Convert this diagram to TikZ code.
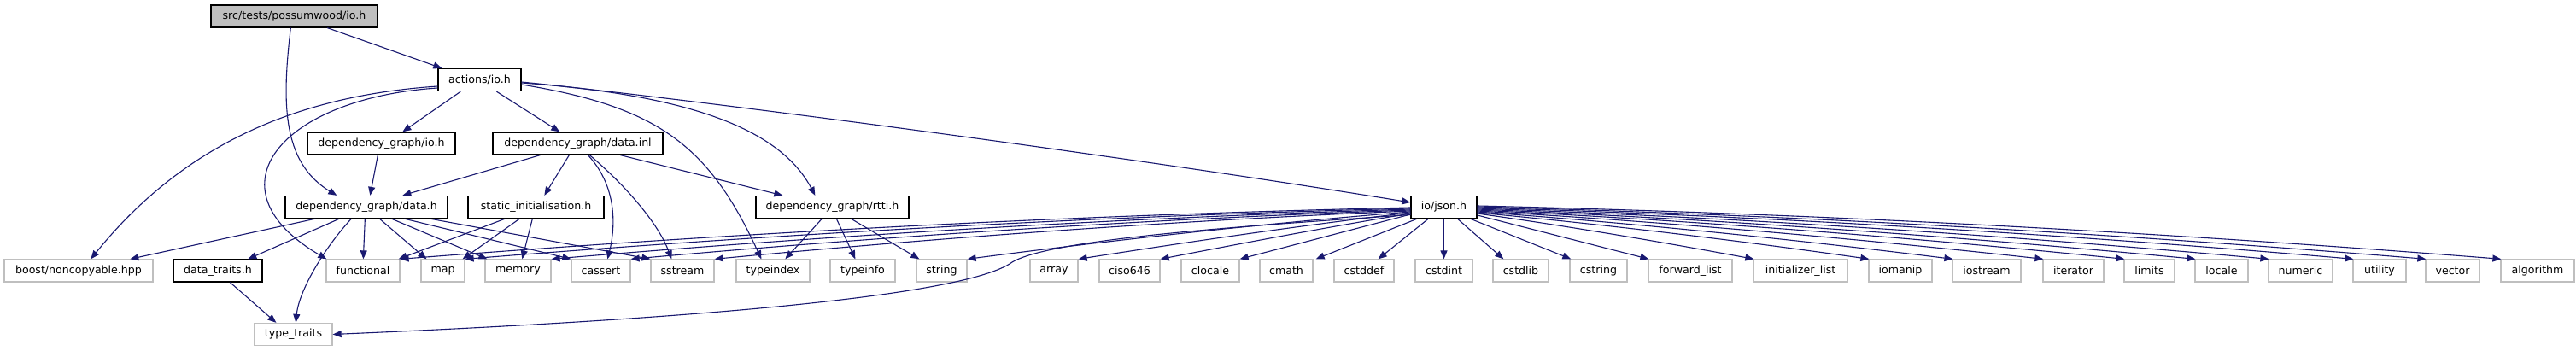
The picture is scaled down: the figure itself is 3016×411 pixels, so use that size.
\documentclass[tikz,border=0pt]{standalone}
\usepackage{fontspec}
\newfontfamily\dv{DejaVu Sans}
\usetikzlibrary{arrows.meta}
\definecolor{edgec}{HTML}{191970}
\definecolor{grayb}{HTML}{BFBFBF}
\definecolor{rootf}{HTML}{BFBFBF}
\tikzset{
  nb/.style={draw=grayb, line width=1.3pt, minimum height=26pt, inner sep=0pt,
    font=\dv\fontsize{12.6}{15}\selectfont, fill=white},
  nk/.style={nb, draw=black},
  dep/.style={draw=edgec, line width=1.1pt, -{Triangle[length=10pt,width=8pt]}}
}
\begin{document}
\begin{tikzpicture}[x=1pt,y=-1pt]
\useasboundingbox[fill=white] (0,0) rectangle (3016,411);
% row 0
\node[nk, fill=rootf, minimum width=195pt] (root) at (344.5,19) {src/tests/possumwood/io.h};
% row 1
\node[nk, minimum width=97pt] (actions) at (561.5,93.5) {actions/io.h};
% row 2
\node[nk, minimum width=173pt] (dgio) at (446.5,168) {dependency\_graph/io.h};
\node[nk, minimum width=199pt] (dginl) at (676.5,168) {dependency\_graph/data.inl};
% row 3
\node[nk, minimum width=190pt] (dgdata) at (429,242.5) {dependency\_graph/data.h};
\node[nk, minimum width=159pt] (static) at (627.5,242.5) {static\_initialisation.h};
\node[nk, minimum width=179pt] (rtti) at (974.5,242.5) {dependency\_graph/rtti.h};
\node[nk, minimum width=77pt] (json) at (1690.5,242.5) {io/json.h};
% row 4
\node[nb, minimum width=174pt] (boost) at (92,317) {boost/noncopyable.hpp};
\node[nk, minimum width=104pt] (datatraits) at (255,317) {data\_traits.h};
\node[nb, minimum width=86pt] (functional) at (425,317) {functional};
\node[nb, minimum width=51pt] (map) at (518.5,317) {map};
\node[nb, minimum width=77pt] (memory) at (606.5,317) {memory};
\node[nb, minimum width=69pt] (cassert) at (703.5,317) {cassert};
\node[nb, minimum width=74pt] (sstream) at (799,317) {sstream};
\node[nb, minimum width=86pt] (typeindex) at (905,317) {typeindex};
\node[nb, minimum width=76pt] (typeinfo) at (1010,317) {typeinfo};
\node[nb, minimum width=59pt] (string) at (1102.5,317) {string};
\node[nb, minimum width=56pt] (array) at (1234,317) {array};
\node[nb, minimum width=71pt] (ciso646) at (1322.5,317) {ciso646};
\node[nb, minimum width=68pt] (clocale) at (1417,317) {clocale};
\node[nb, minimum width=62pt] (cmath) at (1506,317) {cmath};
\node[nb, minimum width=70pt] (cstddef) at (1597,317) {cstddef};
\node[nb, minimum width=67pt] (cstdint) at (1690.5,317) {cstdint};
\node[nb, minimum width=65pt] (cstdlib) at (1780.5,317) {cstdlib};
\node[nb, minimum width=67pt] (cstring) at (1871.5,317) {cstring};
\node[nb, minimum width=98pt] (forwardlist) at (1979,317) {forward\_list};
\node[nb, minimum width=110pt] (initlist) at (2108,317) {initializer\_list};
\node[nb, minimum width=74pt] (iomanip) at (2225,317) {iomanip};
\node[nb, minimum width=80pt] (iostream) at (2326,317) {iostream};
\node[nb, minimum width=71pt] (iterator) at (2427.5,317) {iterator};
\node[nb, minimum width=59pt] (limits) at (2516.5,317) {limits};
\node[nb, minimum width=62pt] (locale) at (2601,317) {locale};
\node[nb, minimum width=75pt] (numeric) at (2693.5,317) {numeric};
\node[nb, minimum width=62pt] (utility) at (2786,317) {utility};
\node[nb, minimum width=63pt] (vector) at (2871.5,317) {vector};
\node[nb, minimum width=86pt] (algorithm) at (2971,317) {algorithm};
% row 5
\node[nb, minimum width=91pt] (typetraits) at (343.5,391.5) {type\_traits};

% root
\draw[dep] ([xshift=137pt]root.south west) -- ([xshift=5pt]actions.north west);
\draw[dep] ([xshift=94pt]root.south west) .. controls (330,120) and (330,190) .. ([xshift=61pt]dgdata.north west);
% actions
\draw[dep] ([xshift=27pt]actions.south west) -- ([xshift=112pt]dgio.north west);
\draw[dep] ([xshift=69pt]actions.south west) -- ([xshift=79pt]dginl.north west);
\draw[dep] ([yshift=-7.5pt]actions.west) .. controls (380,110) and (230,150) .. ([xshift=102pt]boost.north west);
\draw[dep] ([yshift=-9.5pt]actions.west) .. controls (330,115) and (240,220) .. ([xshift=1pt]functional.north west);
\draw[dep] ([yshift=-5.5pt]actions.east) .. controls (770,125) and (830,170) .. ([xshift=30pt]typeindex.north west);
\draw[dep] ([yshift=-3.5pt]actions.east) .. controls (790,110) and (910,145) .. ([xshift=70pt]rtti.north west);
\draw[dep] ([yshift=-2.5pt]actions.east) .. controls (800,115) and (1300,180) .. ([yshift=5.5pt]json.west);
% dgio
\draw[dep] ([xshift=83pt]dgio.south west) -- ([xshift=100pt]dgdata.north west);
% dginl
\draw[dep] ([xshift=56pt]dginl.south west) -- ([xshift=138pt]dgdata.north west);
\draw[dep] ([xshift=90pt]dginl.south west) -- ([xshift=90pt]static.north west);
\draw[dep] ([xshift=112pt]dginl.south west) .. controls (720,215) and (722,260) .. ([xshift=43pt]cassert.north west);
\draw[dep] ([xshift=114pt]dginl.south west) .. controls (730,215) and (770,260) .. ([xshift=25pt]sstream.north west);
\draw[dep] ([xshift=150pt]dginl.south west) -- ([xshift=32pt]rtti.north west);
% dgdata
\draw[dep] ([xshift=36pt]dgdata.south west) -- ([xshift=148pt]boost.north west);
\draw[dep] ([xshift=64pt]dgdata.south west) -- ([xshift=88pt]datatraits.north west);
\draw[dep] ([xshift=78pt]dgdata.south west) .. controls (380,290) and (350,340) .. ([xshift=49pt]typetraits.north west);
\draw[dep] ([xshift=94pt]dgdata.south west) -- ([xshift=44pt]functional.north west);
\draw[dep] ([xshift=111pt]dgdata.south west) -- ([xshift=7pt]map.north west);
\draw[dep] ([xshift=125pt]dgdata.south west) -- ([xshift=3pt]memory.north west);
\draw[dep] ([xshift=140pt]dgdata.south west) -- (cassert.north west);
\draw[dep] ([xshift=170pt]dgdata.south west) -- (sstream.north west);
% static
\draw[dep] ([xshift=44pt]static.south west) -- ([xshift=-2pt]functional.north east);
\draw[dep] ([xshift=61pt]static.south west) -- ([xshift=-3pt]map.north east);
\draw[dep] ([xshift=76pt]static.south west) -- ([xshift=44pt]memory.north west);
% data_traits
\draw[dep] ([xshift=67pt]datatraits.south west) -- ([xshift=26pt]typetraits.north west);
% rtti
\draw[dep] ([xshift=78pt]rtti.south west) -- ([xshift=58pt]typeindex.north west);
\draw[dep] ([xshift=95pt]rtti.south west) -- ([xshift=30pt]typeinfo.north west);
\draw[dep] ([xshift=112pt]rtti.south west) -- ([xshift=4pt]string.north west);
% json, left side
\draw[dep] ([yshift=-0.5pt]json.west) .. controls (1258,251.9) and (864,272.5) .. (functional.north east);
\draw[dep] ([yshift=-1.5pt]json.west) .. controls (1283,253.3) and (914,273.7) .. (map.north east);
\draw[dep] ([yshift=-2.5pt]json.west) .. controls (1317,255) and (981,275) .. (memory.north east);
\draw[dep] ([yshift=-3.5pt]json.west) .. controls (1347,256.5) and (1043,276.1) .. (cassert.north east);
\draw[dep] ([yshift=-4.5pt]json.west) .. controls (1381,258.1) and (1109,277.5) .. (sstream.north east);
\draw[dep] ([yshift=-5.5pt]json.west) .. controls (1479,261.8) and (1306,280.8) .. (string.north east);
\draw[dep] ([yshift=-6.5pt]json.west) .. controls (1522,264.1) and (1393,283.1) .. (array.north east);
\draw[dep] ([yshift=-7.5pt]json.west) .. controls (1555,265.8) and (1457,284.4) .. (ciso646.north east);
\draw[dep] ([yshift=-8.5pt]json.west) -- (clocale.north east);
\draw[dep] ([xshift=8pt]json.south west) -- ([xshift=3pt]cmath.north east);
\draw[dep] ([xshift=21pt]json.south west) -- ([xshift=-19pt]cstddef.north east);
\draw[dep] (json.south) -- (cstdint.north);
\draw[dep] ([xshift=55pt]json.south west) -- ([xshift=13pt]cstdlib.north west);
\draw[dep] ([xshift=70pt]json.south west) -- ([xshift=2pt]cstring.north west);
% json, right side
\draw[dep] ([yshift=-9.5pt]json.east) -- ([xshift=1pt]forwardlist.north west);
\draw[dep] ([yshift=-7.5pt]json.east) .. controls (1837,265) and (1946,283.4) .. ([xshift=1pt]initlist.north west);
\draw[dep] ([yshift=-6.5pt]json.east) .. controls (1882,263.1) and (2036,281.7) .. ([xshift=1pt]iomanip.north west);
\draw[dep] ([yshift=-5.5pt]json.east) .. controls (1915,261.4) and (2101,280.4) .. ([xshift=1pt]iostream.north west);
\draw[dep] ([yshift=-4.5pt]json.east) .. controls (1950,259.7) and (2172,279.1) .. ([xshift=1pt]iterator.north west);
\draw[dep] ([yshift=-3.5pt]json.east) .. controls (1982,258.1) and (2235,277.7) .. ([xshift=1pt]limits.north west);
\draw[dep] ([yshift=-2.5pt]json.east) .. controls (2010,256.6) and (2290,276.6) .. ([xshift=1pt]locale.north west);
\draw[dep] ([yshift=-1.5pt]json.east) .. controls (2038,255) and (2348,275.4) .. ([xshift=1pt]numeric.north west);
\draw[dep] ([yshift=-0.5pt]json.east) .. controls (2071,253.4) and (2414,274) .. ([xshift=1pt]utility.north west);
\draw[dep] ([yshift=0.5pt]json.east) .. controls (2100,252) and (2470,273) .. ([xshift=1pt]vector.north west);
\draw[dep] ([yshift=1.5pt]json.east) .. controls (2128,250.3) and (2528,271.7) .. ([xshift=1pt]algorithm.north west);
% json to type_traits
\draw[dep] ([yshift=-9pt]json.west) .. controls (1450,265) and (1230,280) .. (1185,307)
   .. controls (1140,340) and (900,370) .. (typetraits.east);
\end{tikzpicture}
\end{document}
